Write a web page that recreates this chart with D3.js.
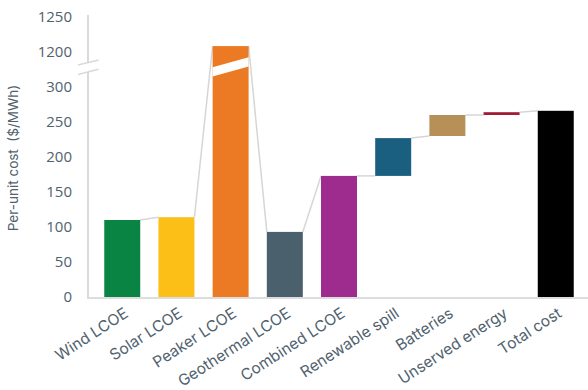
<!DOCTYPE html>
<html>
<head>
<meta charset="utf-8">
<script src="https://cdn.jsdelivr.net/npm/d3@7"></script>
<style>
  html, body { margin: 0; padding: 0; background: #fff; }
  svg { display: block; }
  text { font-family: "Open Sans", sans-serif; fill: #50626e; }
</style>
</head>
<body>
<svg id="chart" width="588" height="390"></svg>
<script>
const categories = ["Wind LCOE", "Solar LCOE", "Peaker LCOE", "Geothermal LCOE", "Combined LCOE",
                    "Renewable spill", "Batteries", "Unserved energy", "Total cost"];
const barStart = [0, 0, 0, 0, 0, 173, 230, 260, 0];
const barEnd   = [110, 114, 1208, 93, 173, 227, 260, 264, 266];
const barColors = ["#0a8443", "#fbbf17", "#ec7a24", "#4a606c", "#9e2b8e",
                   "#1a5f80", "#b69057", "#a11d35", "#000000"];
const yTicks = [0, 50, 100, 150, 200, 250, 300, 1200, 1250];

const svg = d3.select("#chart");
const axisX = 88, baseY = 297;

const x = d3.scaleBand().domain(categories).range([axisX, 590]).paddingInner(0.336).paddingOuter(0.3);
// broken axis: lower segment 0-300, upper segment 1200-1250
const y = d3.scaleLinear().domain([0, 300, 1200, 1250]).range([baseY, 87, 51.7, 16.7]);

const data = categories.map((c, i) => ({ c, s: barStart[i], e: barEnd[i], color: barColors[i] }));

// connectors
const links = [];
for (let i = 0; i < data.length - 1; i++) {
  const a = data[i], b = data[i + 1];
  const inVal = b.s > 0 ? b.s : b.e;
  links.push([[x(a.c) + x.bandwidth(), y(a.e)], [x(b.c), y(inVal)]]);
}
svg.append("g").selectAll("line").data(links).join("line")
  .attr("x1", d => d[0][0]).attr("y1", d => d[0][1])
  .attr("x2", d => d[1][0]).attr("y2", d => d[1][1])
  .attr("stroke", "#d6d6d6").attr("stroke-width", 1.5);

// bars
svg.append("g").selectAll("rect").data(data).join("rect")
  .attr("x", d => x(d.c)).attr("width", x.bandwidth())
  .attr("y", d => y(d.e)).attr("height", d => y(d.s) - y(d.e))
  .attr("fill", d => d.color);

// white break band on the broken bar
const breakMid = (y(300) + y(1200)) / 2 - 2.5;
data.filter(d => d.e > 300).forEach(d => {
  const x0 = x(d.c), x1 = x0 + x.bandwidth();
  const slope = 10 / 36;
  const cl = breakMid + slope * (x.bandwidth() / 2), cr = breakMid - slope * (x.bandwidth() / 2);
  svg.append("polygon")
    .attr("points", [[x0, cl - 4.7], [x1, cr - 4.7], [x1, cr + 4.7], [x0, cl + 4.7]].map(p => p.join(",")).join(" "))
    .attr("fill", "#fff");
});

// y axis line with break
const ax = svg.append("g").attr("stroke", "#d9d9d9").attr("stroke-width", 2);
ax.append("line").attr("x1", axisX).attr("x2", axisX).attr("y1", 15).attr("y2", 63);
ax.append("line").attr("x1", axisX).attr("x2", axisX).attr("y1", 72).attr("y2", baseY);
ax.append("line").attr("x1", 78).attr("y1", 65).attr("x2", 98.5).attr("y2", 60).attr("stroke-width", 1.5);
ax.append("line").attr("x1", 78).attr("y1", 74.5).attr("x2", 98.5).attr("y2", 69.3).attr("stroke-width", 1.5);
// x axis line
svg.append("line").attr("x1", axisX - 1).attr("x2", 588).attr("y1", baseY + 1).attr("y2", baseY + 1)
  .attr("stroke", "#dddddd").attr("stroke-width", 2);

// y tick labels
const yAxis = svg.append("g").attr("transform", `translate(${axisX},0)`)
  .call(d3.axisLeft(y).tickValues(yTicks).tickSize(0).tickPadding(16).tickFormat(d3.format("d")));
yAxis.select(".domain").remove();
yAxis.selectAll("text").style("font-family", "'Open Sans', sans-serif").style("font-size", "15px").attr("fill", "#50626e");

// x labels
const xAxis = svg.append("g").attr("transform", `translate(0,${baseY})`)
  .call(d3.axisBottom(x).tickSize(0).tickPadding(0));
xAxis.select(".domain").remove();
xAxis.selectAll("text")
  .style("font-family", "Inter, sans-serif").style("font-size", "15.5px").attr("fill", "#50626e")
  .attr("text-anchor", "end").attr("dy", null).attr("y", 0)
  .attr("transform", "translate(7,19) rotate(-33)");

// y axis title
svg.append("text").attr("transform", "translate(14,158) rotate(-90)")
  .attr("text-anchor", "middle").attr("dominant-baseline", "middle")
  .style("font-family", "Inter, sans-serif").style("font-size", "13.5px").attr("fill", "#50626e")
  .attr("xml:space", "preserve").text("Per-unit cost  ($/MWh)");
</script>
</body>
</html>
